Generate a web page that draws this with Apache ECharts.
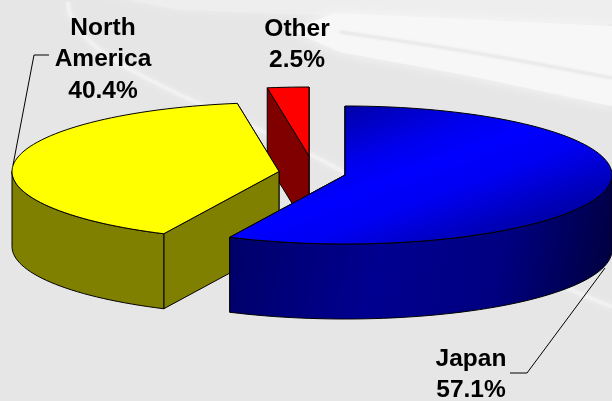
<!DOCTYPE html>
<html>
<head>
<meta charset="utf-8">
<style>
  html, body { margin: 0; padding: 0; background: #e6e6e6; }
  #chart { width: 612px; height: 401px; }
</style>
</head>
<body>
<div id="chart"></div>
<script src="https://cdn.jsdelivr.net/npm/echarts@6/dist/echarts.min.js"></script>
<script>
// values
const regions = ['Japan', 'North\nAmerica', 'Other']
const shares = [57.1, 40.4, 2.5]

// 3d pie layout
const cx = 345, cy = 175, rx = 267, ry = 69, depth = 75
const explode = [[0, 0], [-66, -3.5], [-36, -19]]
const labelAt = [[471, 343], [103, 12], [297, 13]]
const leaders = [
  [[605, 268], [527, 373], [510, 373]],
  [[13, 165], [34, 55], [49, 55]],
  null
]
// back to front
const drawOrder = [2, 1, 0]

const topColors = [
  {
    type: 'linear', global: true, x: 345, y: 105, x2: 415, y2: 296,
    colorStops: [
      { offset: 0, color: '#0000a6' },
      { offset: 0.28, color: '#0000ee' },
      { offset: 0.42, color: '#0000ff' },
      { offset: 0.58, color: '#0000f2' },
      { offset: 1, color: '#000088' }
    ]
  },
  '#ffff00',
  '#ff0000'
]
const sideColors = [
  {
    type: 'linear', global: true, x: 229, y: 200, x2: 620, y2: 290,
    colorStops: [
      { offset: 0, color: '#000066' },
      { offset: 0.4, color: '#000090' },
      { offset: 0.7, color: '#000080' },
      { offset: 1, color: '#000038' }
    ]
  },
  '#808000',
  '#800000'
]

// clockwise degrees from 12 o'clock -> point on the ellipse
function rim (ox, oy, deg) {
  let a = deg * Math.PI / 180
  return [ox + rx * Math.sin(a), oy - ry * Math.cos(a)]
}

function arc (ox, oy, from, to) {
  let pts = []
  let n = Math.max(2, Math.ceil(Math.abs(to - from) / 2))
  for (let i = 0; i <= n; i++) {
    pts.push(rim(ox, oy, from + (to - from) * i / n))
  }
  return pts
}

function face (points, fill) {
  return {
    type: 'polygon',
    shape: { points },
    style: { fill, stroke: '#000', lineWidth: 1, lineJoin: 'round' }
  }
}

const total = shares.reduce((a, b) => a + b, 0)

function renderSlice (params, api) {
  let i = api.value(1)
  let start = 0
  for (let k = 0; k < i; k++) start += shares[k]
  start = start / total * 360
  let end = start + api.value(0) / total * 360
  let ox = cx + explode[i][0]
  let oy = cy + explode[i][1]
  let down = p => [p[0], p[1] + depth]
  let children = []

  // cut walls, far one first
  let wall = deg => {
    let p = rim(ox, oy, deg)
    return face([[ox, oy], p, down(p), [ox, oy + depth]], sideColors[i])
  }
  children.push(wall(end))
  children.push(wall(start))

  // outer wall, only the part facing the viewer
  let wallFrom = Math.max(start, 90)
  let wallTo = Math.min(end, 270)
  if (wallFrom < wallTo) {
    let outer = arc(ox, oy, wallFrom, wallTo)
    children.push(face(outer.concat(outer.slice().reverse().map(down)), sideColors[i]))
  }

  // top
  children.push(face([[ox, oy]].concat(arc(ox, oy, start, end)), topColors[i]))
  return { type: 'group', children }
}

// leaders and labels come after the whole pie, so they sit on top of it
function renderLabel (params, api) {
  let i = params.dataIndex
  let children = [{
    type: 'text',
    style: {
      x: labelAt[i][0],
      y: labelAt[i][1],
      text: regions[i] + '\n' + api.value(0).toFixed(1) + '%',
      fill: '#000',
      font: 'bold 24.5px "Liberation Sans", Arial, sans-serif',
      lineHeight: 31.5,
      align: 'center',
      verticalAlign: 'top'
    }
  }]
  if (leaders[i]) {
    children.push({
      type: 'polyline',
      shape: { points: leaders[i] },
      style: { fill: 'none', stroke: '#000', lineWidth: 1 }
    })
  }
  return { type: 'group', children }
}

// washed out photo behind the chart
function streak (points, color, width, blur) {
  return {
    type: 'polyline',
    shape: { points, smooth: 0.4 },
    silent: true,
    style: { fill: 'none', stroke: color, lineWidth: width, shadowBlur: blur, shadowColor: color }
  }
}

const backdrop = [
  { type: 'rect', shape: { x: 0, y: 0, width: 612, height: 401 }, style: { fill: '#e6e6e6' }, silent: true },
  {
    type: 'polygon', silent: true,
    shape: { points: [[80, -10], [612, -10], [612, 24], [340, 16], [180, 10]] },
    style: { fill: '#eeeeee', shadowBlur: 10, shadowColor: '#eeeeee' }
  },
  {
    type: 'polygon', silent: true,
    shape: { points: [[335, 13], [612, 26], [612, 106], [470, 76], [340, 52], [290, 30]] },
    style: { fill: '#f7f7f7', shadowBlur: 12, shadowColor: '#f7f7f7' }
  },
  streak([[340, 32], [470, 52], [612, 78]], '#ebebeb', 3, 3),
  streak([[68, 2], [72, 18], [100, 50], [170, 90], [260, 130], [340, 170], [450, 235], [567, 288], [612, 307]], '#f1f1f1', 4, 6)
]

const chart = echarts.init(document.getElementById('chart'), null, { renderer: 'canvas' })
chart.setOption({
  animation: false,
  graphic: { elements: backdrop.map(el => Object.assign({ z: -10 }, el)) },
  series: [
    {
      type: 'custom',
      coordinateSystem: 'none',
      renderItem: renderSlice,
      silent: true,
      z: 2,
      data: drawOrder.map(i => [shares[i], i])
    },
    {
      type: 'custom',
      coordinateSystem: 'none',
      renderItem: renderLabel,
      silent: true,
      z: 3,
      data: shares.map(v => [v])
    }
  ]
})
</script>
</body>
</html>
